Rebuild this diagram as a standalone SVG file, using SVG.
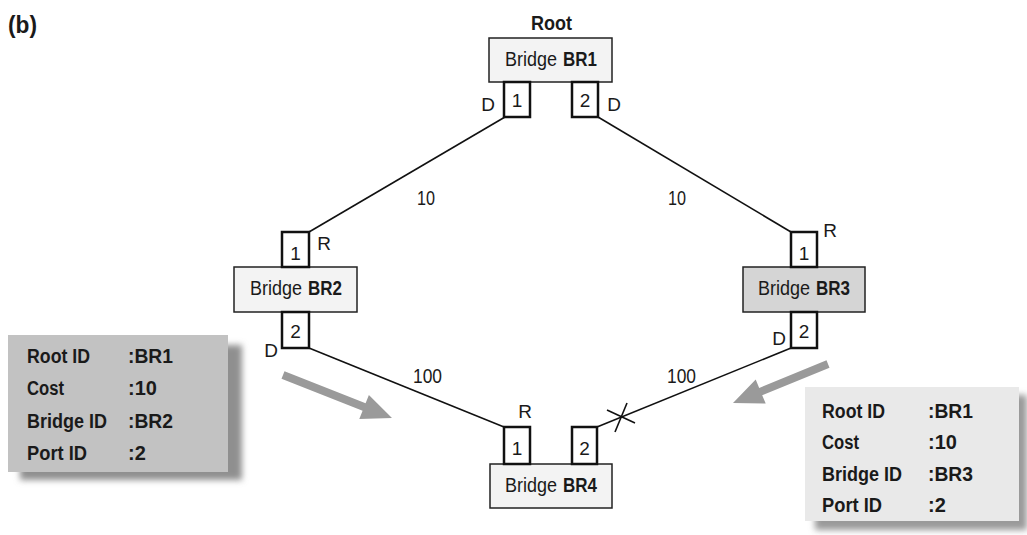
<svg xmlns="http://www.w3.org/2000/svg" width="1027" height="535" viewBox="0 0 1027 535">
<defs>
<style>
text{font-family:"Liberation Sans",Arial,sans-serif;font-size:20px;fill:#1a1a1a}
.b{font-weight:bold}
.m{text-anchor:middle}
.s{font-size:19px}
.bridge{fill:#f3f3f3;stroke:#222;stroke-width:1.5}
.bridge.g{fill:#d5d5d5}
.port{fill:#fff;stroke:#111;stroke-width:2.5}
.link{stroke:#111;stroke-width:1.6;fill:none}
.arrow{fill:#9a9a9a}
</style>
<filter id="blur" x="-10%" y="-10%" width="120%" height="120%"><feGaussianBlur stdDeviation="3"/></filter>
</defs>
<rect width="1027" height="535" fill="#fff"/>
<text x="8" y="33" class="b" style="font-size:23px" textLength="29" lengthAdjust="spacingAndGlyphs">(b)</text>

<g id="connectors">
<line class="link" x1="505" y1="117" x2="309" y2="232"/>
<line class="link" x1="598" y1="117" x2="791" y2="232"/>
<line class="link" x1="309" y1="348" x2="504" y2="427"/>
<line class="link" x1="791" y1="348" x2="597" y2="427"/>
<line class="link" x1="607" y1="410" x2="635" y2="423"/>
<line class="link" x1="627" y1="403" x2="615" y2="432"/>
<text x="417" y="205" textLength="18" lengthAdjust="spacingAndGlyphs">10</text>
<text x="668" y="205" textLength="18" lengthAdjust="spacingAndGlyphs">10</text>
<text x="413" y="383" textLength="29" lengthAdjust="spacingAndGlyphs">100</text>
<text x="667" y="383" textLength="29" lengthAdjust="spacingAndGlyphs">100</text>
</g>

<g id="BR1">
<text x="531" y="30" class="b" textLength="41" lengthAdjust="spacingAndGlyphs">Root</text>
<rect class="bridge" x="489" y="38" width="123" height="44"/>
<text x="505" y="66" textLength="52" lengthAdjust="spacingAndGlyphs">Bridge</text>
<text x="563" y="66" class="b" textLength="34" lengthAdjust="spacingAndGlyphs">BR1</text>
<rect class="port" x="504" y="82" width="26" height="35"/>
<rect class="port" x="572" y="82" width="26" height="35"/>
<text x="517" y="107" class="m s">1</text>
<text x="585" y="107" class="m s">2</text>
<text x="488" y="111" class="m s">D</text>
<text x="614" y="111" class="m s">D</text>
</g>

<g id="BR2">
<rect class="bridge" x="234" y="267" width="123" height="45"/>
<text x="250" y="295" textLength="52" lengthAdjust="spacingAndGlyphs">Bridge</text>
<text x="308" y="295" class="b" textLength="34" lengthAdjust="spacingAndGlyphs">BR2</text>
<rect class="port" x="282" y="232" width="27" height="35"/>
<rect class="port" x="282" y="312" width="27" height="36"/>
<text x="295.5" y="260" class="m s">1</text>
<text x="295.5" y="338" class="m s">2</text>
<text x="324" y="250" class="m s">R</text>
<text x="271" y="357" class="m s">D</text>
</g>

<g id="BR3">
<rect class="bridge g" x="743" y="267" width="122" height="45"/>
<text x="758" y="295" textLength="52" lengthAdjust="spacingAndGlyphs">Bridge</text>
<text x="816" y="295" class="b" textLength="34" lengthAdjust="spacingAndGlyphs">BR3</text>
<rect class="port" x="791" y="232" width="26" height="35"/>
<rect class="port" x="791" y="312" width="26" height="36"/>
<text x="804" y="260" class="m s">1</text>
<text x="804" y="338" class="m s">2</text>
<text x="830" y="237" class="m s">R</text>
<text x="779" y="345" class="m s">D</text>
</g>

<g id="BR4">
<rect class="bridge" x="490" y="464" width="122" height="44"/>
<text x="505" y="492" textLength="52" lengthAdjust="spacingAndGlyphs">Bridge</text>
<text x="563" y="492" class="b" textLength="34" lengthAdjust="spacingAndGlyphs">BR4</text>
<rect class="port" x="504" y="427" width="26" height="37"/>
<rect class="port" x="572" y="427" width="25" height="37"/>
<text x="517" y="455" class="m s">1</text>
<text x="584.5" y="455" class="m s">2</text>
<text x="525" y="418" class="m s">R</text>
</g>

<g id="arrow-left">
<polygon class="arrow" points="281.5,378.7 284.5,371.3 365.6,403.3 368.9,394.9 392,418 359.3,419.1 362.6,410.7"/>
</g>
<g id="arrow-right">
<polygon class="arrow" points="829.5,367.7 826.5,360.3 759.2,387.9 755.7,379.6 733,403 765.7,403.6 762.2,395.3"/>
</g>

<g id="info-BR2">
<rect x="20" y="345" width="222" height="135" fill="#8f8f8f" filter="url(#blur)"/>
<rect x="8" y="335" width="220" height="137" fill="#c2c2c2"/>
<text x="27" y="363" class="b" textLength="63" lengthAdjust="spacingAndGlyphs">Root ID</text><text x="128" y="363" class="b" textLength="45" lengthAdjust="spacingAndGlyphs">:BR1</text>
<text x="27" y="395" class="b" textLength="37" lengthAdjust="spacingAndGlyphs">Cost</text><text x="128" y="395" class="b">:10</text>
<text x="27" y="428" class="b" textLength="80" lengthAdjust="spacingAndGlyphs">Bridge ID</text><text x="128" y="428" class="b" textLength="45" lengthAdjust="spacingAndGlyphs">:BR2</text>
<text x="27" y="460" class="b" textLength="60" lengthAdjust="spacingAndGlyphs">Port ID</text><text x="128" y="460" class="b">:2</text>
</g>

<g id="info-BR3">
<rect x="815" y="395" width="212" height="135" fill="#9a9a9a" filter="url(#blur)"/>
<rect x="805" y="387" width="214" height="134" fill="#e9e9e9"/>
<text x="822" y="418" class="b" textLength="63" lengthAdjust="spacingAndGlyphs">Root ID</text><text x="928" y="418" class="b" textLength="45" lengthAdjust="spacingAndGlyphs">:BR1</text>
<text x="822" y="449" class="b" textLength="37" lengthAdjust="spacingAndGlyphs">Cost</text><text x="928" y="449" class="b">:10</text>
<text x="822" y="481" class="b" textLength="80" lengthAdjust="spacingAndGlyphs">Bridge ID</text><text x="928" y="481" class="b" textLength="45" lengthAdjust="spacingAndGlyphs">:BR3</text>
<text x="822" y="512" class="b" textLength="60" lengthAdjust="spacingAndGlyphs">Port ID</text><text x="928" y="512" class="b">:2</text>
</g>
</svg>
